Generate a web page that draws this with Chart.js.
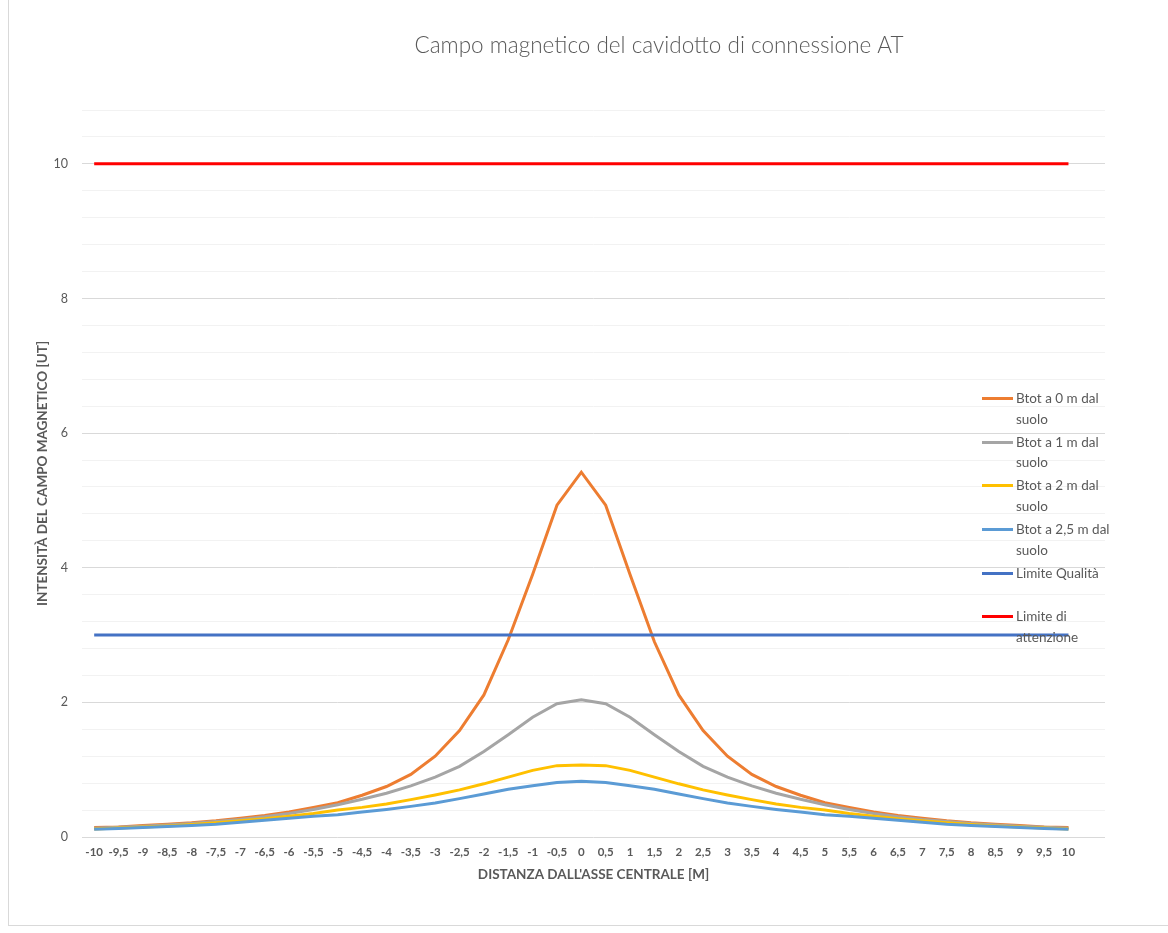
<!DOCTYPE html>
<html lang="it">
<head>
<meta charset="UTF-8">
<title>Campo magnetico del cavidotto di connessione AT</title>
<script src="https://cdn.jsdelivr.net/npm/chart.js"></script>
<style>
    body { margin: 0; overflow: hidden; background: #fff; font-family: Lato, sans-serif; }
    .wrapper { position: relative; width: 1168px; height: 933px; }
    .cornice { position: absolute; left: 8px; top: -2px; width: 1170px; height: 926px; border: 1px solid #d9d9d9; }
    canvas { position: absolute; left: 0; top: 0; }
    #legenda { position: absolute; left: 982px; top: 388px; }
    .voce { position: relative; height: 43.7px; }
    .voce .campione { position: absolute; left: 0; top: 9px; width: 31px; height: 3px; }
    .voce .testo { position: absolute; left: 34px; top: 0; width: 106px; font-size: 13.5px; line-height: 20.5px; color: #595959; }
</style>
</head>
<body>
<div class="wrapper">
    <div class="cornice"></div>
    <canvas id="campoChart" width="1168" height="933"></canvas>
    <div id="legenda"></div>
</div>
<script>
    const chartTitle = 'Campo magnetico del cavidotto di connessione AT';
    const xTitle = "DISTANZA DALL'ASSE CENTRALE [M]";
    const yTitle = 'INTENSITÀ DEL CAMPO MAGNETICO [UT]';

    // distanze -10 ... 10 (l'ultima categoria vuota come nel grafico Excel)
    const distanze = ['-10', '-9,5', '-9', '-8,5', '-8', '-7,5', '-7', '-6,5', '-6', '-5,5', '-5',
        '-4,5', '-4', '-3,5', '-3', '-2,5', '-2', '-1,5', '-1', '-0,5', '0',
        '0,5', '1', '1,5', '2', '2,5', '3', '3,5', '4', '4,5', '5',
        '5,5', '6', '6,5', '7', '7,5', '8', '8,5', '9', '9,5', '10', ''];

    const serieNomi = ['Btot a 0 m dal suolo', 'Btot a 1 m dal suolo', 'Btot a 2 m dal suolo',
        'Btot a 2,5 m dal suolo', 'Limite Qualità', 'Limite di attenzione'];

    const btot0 = [0.14, 0.15, 0.17, 0.19, 0.21, 0.24, 0.28, 0.32, 0.37, 0.44, 0.51,
        0.62, 0.75, 0.93, 1.20, 1.58, 2.11, 2.93, 3.90, 4.93, 5.42,
        4.93, 3.90, 2.90, 2.11, 1.58, 1.20, 0.93, 0.75, 0.62, 0.51,
        0.44, 0.37, 0.32, 0.28, 0.24, 0.21, 0.19, 0.17, 0.15, 0.14];
    const btot1 = [0.13, 0.145, 0.16, 0.18, 0.20, 0.23, 0.26, 0.30, 0.35, 0.41, 0.48,
        0.56, 0.65, 0.76, 0.89, 1.05, 1.27, 1.52, 1.78, 1.98, 2.04,
        1.98, 1.78, 1.52, 1.27, 1.05, 0.89, 0.76, 0.65, 0.56, 0.48,
        0.41, 0.35, 0.30, 0.26, 0.23, 0.20, 0.18, 0.16, 0.145, 0.13];
    const btot2 = [0.12, 0.135, 0.15, 0.165, 0.185, 0.21, 0.24, 0.27, 0.31, 0.35, 0.40,
        0.44, 0.49, 0.555, 0.625, 0.70, 0.79, 0.89, 0.99, 1.06, 1.07,
        1.06, 0.99, 0.89, 0.79, 0.70, 0.625, 0.555, 0.49, 0.44, 0.40,
        0.35, 0.31, 0.27, 0.24, 0.21, 0.185, 0.165, 0.15, 0.135, 0.12];
    const btot25 = [0.115, 0.125, 0.14, 0.155, 0.17, 0.19, 0.22, 0.25, 0.28, 0.31, 0.33,
        0.37, 0.41, 0.455, 0.505, 0.57, 0.64, 0.71, 0.76, 0.81, 0.83,
        0.81, 0.76, 0.71, 0.64, 0.57, 0.505, 0.455, 0.41, 0.37, 0.33,
        0.31, 0.28, 0.25, 0.22, 0.19, 0.17, 0.155, 0.14, 0.125, 0.115];
    const limiteQualita = [3, 3, 3, 3, 3, 3, 3, 3, 3, 3, 3, 3, 3, 3, 3, 3, 3, 3, 3, 3, 3,
        3, 3, 3, 3, 3, 3, 3, 3, 3, 3, 3, 3, 3, 3, 3, 3, 3, 3, 3, 3];
    const limiteAttenzione = [10, 10, 10, 10, 10, 10, 10, 10, 10, 10, 10, 10, 10, 10, 10, 10, 10, 10, 10, 10, 10,
        10, 10, 10, 10, 10, 10, 10, 10, 10, 10, 10, 10, 10, 10, 10, 10, 10, 10, 10, 10];

    const colori = ['#ED7D31', '#A5A5A5', '#FFC000', '#5B9BD5', '#4472C4', '#FF0000'];
    const serieDati = [btot0, btot1, btot2, btot25, limiteQualita, limiteAttenzione];

    const isMajor = v => Math.abs(v / 2 - Math.round(v / 2)) < 1e-6;

    const titoloPlugin = {
        id: 'titoloLibero',
        afterDraw(chart) {
            const c = chart.ctx;
            c.save();
            c.font = '300 22.5px Lato';
            c.fillStyle = '#595959';
            c.textAlign = 'center';
            c.textBaseline = 'middle';
            c.fillText(chartTitle, 659, 46);
            c.restore();
        }
    };

    Chart.defaults.font.family = 'Lato';
    Chart.defaults.color = '#595959';

    const ctx = document.getElementById('campoChart').getContext('2d');
    const campoChart = new Chart(ctx, {
        type: 'line',
        data: {
            labels: distanze,
            datasets: serieDati.map((d, i) => ({
                label: serieNomi[i],
                data: d,
                borderColor: colori[i],
                backgroundColor: colori[i],
                borderWidth: 3,
                pointRadius: 0,
                tension: 0,
                fill: false,
                order: 6 - i
            }))
        },
        options: {
            responsive: false,
            animation: false,
            layout: { padding: { left: 29, right: 63, top: 110, bottom: 46 } },
            scales: {
                x: {
                    offset: true,
                    afterFit: s => { s.height = 50; },
                    grid: { display: false, drawTicks: false },
                    border: { display: false },
                    ticks: {
                        autoSkip: false,
                        maxRotation: 0,
                        minRotation: 0,
                        padding: 8,
                        color: '#595959',
                        font: { size: 11.5, weight: 'bold' }
                    },
                    title: {
                        display: true,
                        text: xTitle,
                        color: '#595959',
                        font: { size: 13.5, weight: 'bold' },
                        padding: { top: 0, bottom: 4 }
                    }
                },
                y: {
                    min: 0,
                    max: 10.8,
                    afterFit: s => { s.width = 53; },
                    grid: {
                        drawTicks: false,
                        color: c => (c.tick && isMajor(c.tick.value)) ? '#d9d9d9' : '#f2f2f2'
                    },
                    border: { display: false },
                    ticks: {
                        stepSize: 0.4,
                        autoSkip: false,
                        padding: 14,
                        color: '#595959',
                        font: { size: 12.5 },
                        callback: v => isMajor(v) ? String(Math.round(v)) : ''
                    },
                    title: {
                        display: true,
                        text: yTitle,
                        color: '#595959',
                        font: { size: 13.5, weight: 'bold' },
                        padding: { top: 6, bottom: 0 }
                    }
                }
            },
            plugins: {
                legend: { display: false },
                tooltip: { enabled: false },
                title: { display: false }
            }
        },
        plugins: [titoloPlugin]
    });

    // legenda a destra, sovrapposta all'area del grafico
    const legenda = document.getElementById('legenda');
    campoChart.data.datasets.forEach(ds => {
        const voce = document.createElement('div');
        voce.className = 'voce';
        const campione = document.createElement('div');
        campione.className = 'campione';
        campione.style.background = ds.borderColor;
        const testo = document.createElement('div');
        testo.className = 'testo';
        testo.textContent = ds.label;
        voce.appendChild(campione);
        voce.appendChild(testo);
        legenda.appendChild(voce);
    });
</script>
</body>
</html>
